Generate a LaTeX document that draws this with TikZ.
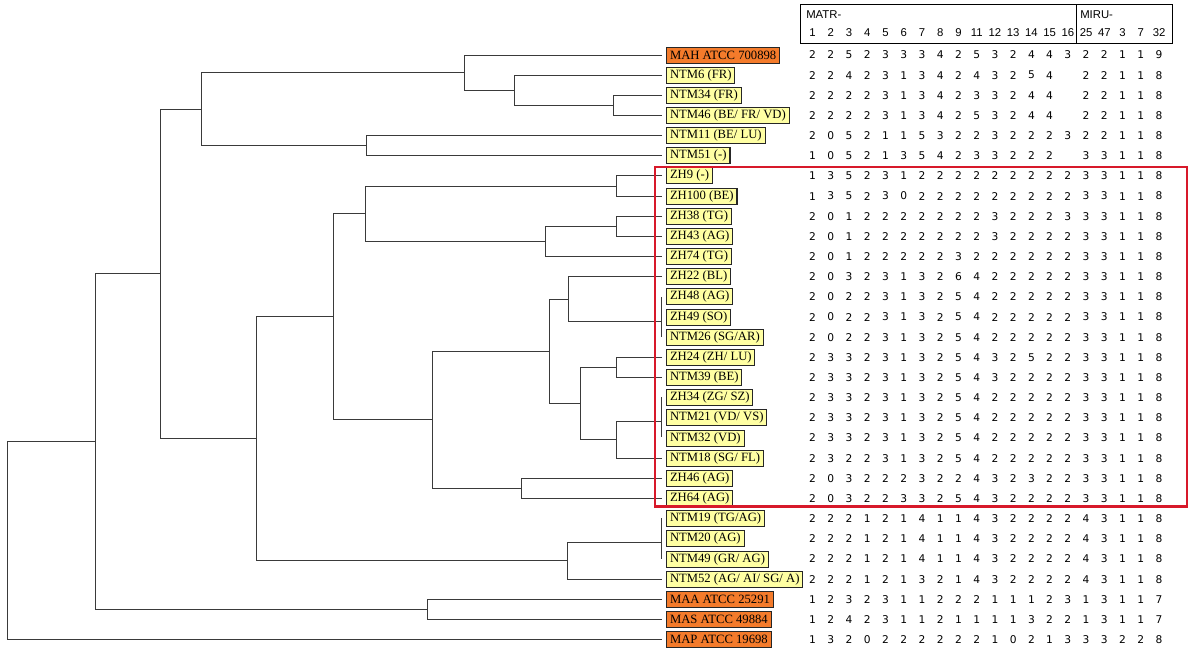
\documentclass[tikz,border=0pt]{standalone}
\usepackage{fontspec}
\setmainfont{Liberation Serif}
\newfontfamily\numfont{DejaVu Sans}
\newfontfamily\headfont{Liberation Sans}

\definecolor{refcol}{HTML}{F47B2B}
\definecolor{isocol}{HTML}{FFFFA3}
\definecolor{boxred}{HTML}{D7192A}
\definecolor{treecol}{HTML}{3A3A3A}

\tikzset{
  leaf/.style={draw=black!85, line width=0.8pt, fill=isocol, anchor=west,
    outer xsep=3.5pt, inner xsep=2.5pt, inner ysep=0pt, minimum height=12.5pt,
    font=\fontsize{9.5}{10}\selectfont},
  ref/.style={leaf, fill=refcol},
  branch/.style={draw=treecol, line width=1.1pt},
  val/.style={inner sep=0pt, font=\numfont\fontsize{8}{9}\selectfont},
  head/.style={inner sep=0pt, font=\headfont\fontsize{8.5}{9}\selectfont},
}

\begin{document}
\begin{tikzpicture}[x=0.75pt, y=-0.75pt]
  \useasboundingbox (0,0) rectangle (1192,655);

  % isolates
  \node[ref]  (0)  at (662,55.5)  {MAH ATCC 700898};
  \node[leaf] (1)  at (662,75.5)  {NTM6 (FR)};
  \node[leaf] (2)  at (662,95.5)  {NTM34 (FR)};
  \node[leaf] (3)  at (662,115.5) {NTM46 (BE/ FR/ VD)};
  \node[leaf] (4)  at (662,135.5) {NTM11 (BE/ LU)};
  \node[leaf] (5)  at (662,155.5) {NTM51 (-)};
  \node[leaf] (6)  at (662,175.5) {ZH9 (-)};
  \node[leaf] (7)  at (662,196.5) {ZH100 (BE)};
  \node[leaf] (8)  at (662,216.5) {ZH38 (TG)};
  \node[leaf] (9)  at (662,236.5) {ZH43 (AG)};
  \node[leaf] (10) at (662,256.5) {ZH74 (TG)};
  \node[leaf] (11) at (662,276.5) {ZH22 (BL)};
  \node[leaf] (12) at (662,296.5) {ZH48 (AG)};
  \node[leaf] (13) at (662,317.5) {ZH49 (SO)};
  \node[leaf] (14) at (662,337.5) {NTM26 (SG/AR)};
  \node[leaf] (15) at (662,357.5) {ZH24 (ZH/ LU)};
  \node[leaf] (16) at (662,377.5) {NTM39 (BE)};
  \node[leaf] (17) at (662,397.5) {ZH34 (ZG/ SZ)};
  \node[leaf] (18) at (662,417.5) {NTM21 (VD/ VS)};
  \node[leaf] (19) at (662,438.5) {NTM32 (VD)};
  \node[leaf] (20) at (662,458.5) {NTM18 (SG/ FL)};
  \node[leaf] (21) at (662,478.5) {ZH46 (AG)};
  \node[leaf] (22) at (662,498.5) {ZH64 (AG)};
  \node[leaf] (23) at (662,518.5) {NTM19 (TG/AG)};
  \node[leaf] (24) at (662,538.5) {NTM20 (AG)};
  \node[leaf] (25) at (662,559.5) {NTM49 (GR/ AG)};
  \node[leaf] (26) at (662,579.5) {NTM52 (AG/ AI/ SG/ A)};
  \node[ref]  (27) at (662,599.5) {MAA ATCC 25291};
  \node[ref]  (28) at (662,619.5) {MAS ATCC 49884};
  \node[ref]  (29) at (662,639.5) {MAP ATCC 19698};

  % inner nodes of the tree
  \coordinate (n1)  at (613.5,105.5);
  \coordinate (n2)  at (514.5,90.5);
  \coordinate (n3)  at (464.5,72.5);
  \coordinate (n4)  at (366.5,145.5);
  \coordinate (n5)  at (201.5,109.5);
  \coordinate (n6)  at (616.5,186.5);
  \coordinate (n7)  at (616.5,226.5);
  \coordinate (n8)  at (545.5,241.5);
  \coordinate (n9)  at (365.5,213.5);
  \coordinate (n10) at (568.5,299.5);
  \coordinate (n11) at (616.5,367.5);
  \coordinate (n12) at (616.5,439.5);
  \coordinate (n13) at (580.5,403.5);
  \coordinate (n14) at (549.5,351.5);
  \coordinate (n15) at (521.5,488.5);
  \coordinate (n16) at (432.5,419.5);
  \coordinate (n17) at (333.5,316.5);
  \coordinate (n18) at (567.5,560.5);
  \coordinate (n19) at (256.5,438.5);
  \coordinate (n20) at (160.5,273.5);
  \coordinate (n21) at (427.5,609.5);
  \coordinate (n22) at (95.5,441.5);
  \coordinate (n23) at (7.5,540.5);
  % zero-length clusters
  \coordinate (p1) at (661.5,321.5);
  \coordinate (p1a) at (661.5,297.5);
  \coordinate (p1b) at (661.5,337.5);
  \coordinate (p2) at (661.5,421.5);
  \coordinate (p2a) at (661.5,397.5);
  \coordinate (p2b) at (661.5,437.5);
  \coordinate (p3) at (661.5,542.5);
  \coordinate (p3a) at (661.5,518.5);
  \coordinate (p3b) at (661.5,558.5);

  \draw[branch] (2.west) -| (n1) |- (3.west);
  \draw[branch] (1.west) -| (n2) |- (n1);
  \draw[branch] (0.west) -| (n3) |- (n2);
  \draw[branch] (4.west) -| (n4) |- (5.west);
  \draw[branch] (n3) -| (n5) |- (n4);
  \draw[branch] (6.west) -| (n6) |- (7.west);
  \draw[branch] (8.west) -| (n7) |- (9.west);
  \draw[branch] (n7) -| (n8) |- (10.west);
  \draw[branch] (n6) -| (n9) |- (n8);
  \draw[branch] (11.west) -| (n10) |- (p1);
  \draw[branch] (15.west) -| (n11) |- (16.west);
  \draw[branch] (p2) -| (n12) |- (20.west);
  \draw[branch] (n11) -| (n13) |- (n12);
  \draw[branch] (n10) -| (n14) |- (n13);
  \draw[branch] (21.west) -| (n15) |- (22.west);
  \draw[branch] (n14) -| (n16) |- (n15);
  \draw[branch] (n9) -| (n17) |- (n16);
  \draw[branch] (p3) -| (n18) |- (26.west);
  \draw[branch] (n17) -| (n19) |- (n18);
  \draw[branch] (n5) -| (n20) |- (n19);
  \draw[branch] (27.west) -| (n21) |- (28.west);
  \draw[branch] (n20) -| (n22) |- (n21);
  \draw[branch] (n22) -| (n23) |- (29.west);
  \draw[branch] (p1a) -- (p1b) (p2a) -- (p2b) (p3a) -- (p3b);

  % highlighted cluster
  \draw[boxred, line width=1.9pt] (655,167) rectangle (1187,506.5);

  % header
  \draw[line width=0.8pt] (800.5,4.5) rectangle (1172.5,43.5);
  \draw[line width=0.8pt] (1076.5,4.5) -- (1076.5,43.5);
  \node[head, anchor=west] (matr) at (806,15) {MATR-};
  \node[head, anchor=west] (miru) at (1080,15) {MIRU-};
  \foreach \h [count=\c from 0] in {1,2,3,4,5,6,7,8,9,11,12,13,14,15,16,25,47,3,7,32}
    \node[head] (h\c) at (812.5+18.24*\c,32.5) {\h};

  % repeat numbers
  \foreach \row [count=\r from 0] in {
    {2,2,5,2,3,3,3,4,2,5,3,2,4,4,3,2,2,1,1,9},
    {2,2,4,2,3,1,3,4,2,4,3,2,5,4,{},2,2,1,1,8},
    {2,2,2,2,3,1,3,4,2,3,3,2,4,4,{},2,2,1,1,8},
    {2,2,2,2,3,1,3,4,2,5,3,2,4,4,{},2,2,1,1,8},
    {2,0,5,2,1,1,5,3,2,2,3,2,2,2,3,2,2,1,1,8},
    {1,0,5,2,1,3,5,4,2,3,3,2,2,2,{},3,3,1,1,8},
    {1,3,5,2,3,1,2,2,2,2,2,2,2,2,2,3,3,1,1,8},
    {1,3,5,2,3,0,2,2,2,2,2,2,2,2,2,3,3,1,1,8},
    {2,0,1,2,2,2,2,2,2,2,3,2,2,2,3,3,3,1,1,8},
    {2,0,1,2,2,2,2,2,2,2,3,2,2,2,2,3,3,1,1,8},
    {2,0,1,2,2,2,2,2,3,2,2,2,2,2,2,3,3,1,1,8},
    {2,0,3,2,3,1,3,2,6,4,2,2,2,2,2,3,3,1,1,8},
    {2,0,2,2,3,1,3,2,5,4,2,2,2,2,2,3,3,1,1,8},
    {2,0,2,2,3,1,3,2,5,4,2,2,2,2,2,3,3,1,1,8},
    {2,0,2,2,3,1,3,2,5,4,2,2,2,2,2,3,3,1,1,8},
    {2,3,3,2,3,1,3,2,5,4,3,2,5,2,2,3,3,1,1,8},
    {2,3,3,2,3,1,3,2,5,4,3,2,2,2,2,3,3,1,1,8},
    {2,3,3,2,3,1,3,2,5,4,2,2,2,2,2,3,3,1,1,8},
    {2,3,3,2,3,1,3,2,5,4,2,2,2,2,2,3,3,1,1,8},
    {2,3,3,2,3,1,3,2,5,4,2,2,2,2,2,3,3,1,1,8},
    {2,3,2,2,3,1,3,2,5,4,2,2,2,2,2,3,3,1,1,8},
    {2,0,3,2,2,2,3,2,2,4,3,2,3,2,2,3,3,1,1,8},
    {2,0,3,2,2,3,3,2,5,4,3,2,2,2,2,3,3,1,1,8},
    {2,2,2,1,2,1,4,1,1,4,3,2,2,2,2,4,3,1,1,8},
    {2,2,2,1,2,1,4,1,1,4,3,2,2,2,2,4,3,1,1,8},
    {2,2,2,1,2,1,4,1,1,4,3,2,2,2,2,4,3,1,1,8},
    {2,2,2,1,2,1,3,2,1,4,3,2,2,2,2,4,3,1,1,8},
    {1,2,3,2,3,1,1,2,2,2,1,1,1,2,3,1,3,1,1,7},
    {1,2,4,2,3,1,1,2,1,1,1,1,3,2,2,1,3,1,1,7},
    {1,3,2,0,2,2,2,2,2,2,1,0,2,1,3,3,3,2,2,8}}
    \foreach \v [count=\c from 0] in \row
      \node[val] (v\r-\c) at (812.5+18.24*\c,55+20.16*\r) {\v};
\end{tikzpicture}
\end{document}
